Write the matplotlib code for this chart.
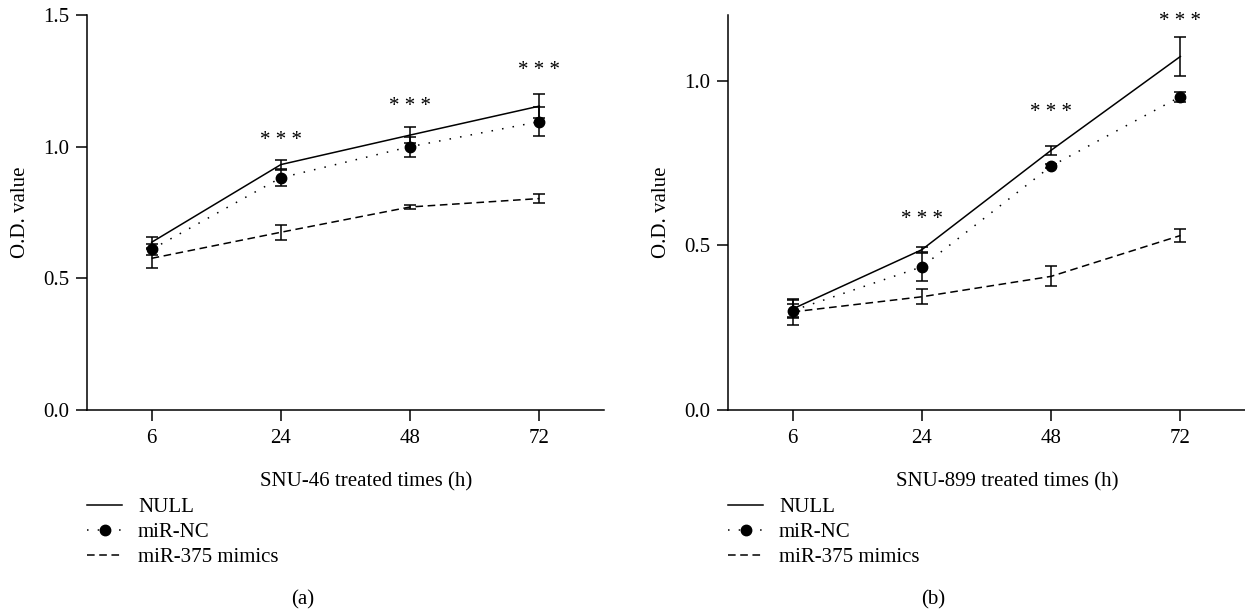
import numpy as np
import matplotlib
matplotlib.use("Agg")
import matplotlib.pyplot as plt
from matplotlib.lines import Line2D

plt.rcParams.update({
    "font.family": ["Liberation Serif", "DejaVu Serif"],
    "font.size": 15,
    "axes.linewidth": 1.1,
    "xtick.major.width": 1.1,
    "ytick.major.width": 1.1,
    "xtick.major.size": 8,
    "ytick.major.size": 8,
})

times = ["6", "24", "48", "72"]

# panel (a) SNU-46
a_null = [0.637, 0.932, 1.044, 1.154]
a_null_err = [0.020, 0.016, 0.031, 0.046]
a_nc = [0.610, 0.882, 1.000, 1.095]
a_nc_err = [0.020, 0.030, 0.038, 0.054]
a_mim = [0.576, 0.675, 0.771, 0.803]
a_mim_err = [0.035, 0.028, 0.008, 0.018]
a_star_y = [None, 1.025, 1.152, 1.289]

# panel (b) SNU-899
b_null = [0.307, 0.487, 0.789, 1.074]
b_null_err = [0.027, 0.007, 0.014, 0.058]
b_nc = [0.302, 0.435, 0.741, 0.952]
b_nc_err = [0.020, 0.043, 0.005, 0.015]
b_mim = [0.298, 0.344, 0.406, 0.530]
b_mim_err = [0.040, 0.023, 0.030, 0.020]
b_star_y = [None, 0.579, 0.905, 1.181]

W, H = 1245, 615
fig = plt.figure(figsize=(W / 100, H / 100), dpi=100)

ax_w = 517 / W
ax_b = 1 - 410 / H
ax_h = 395 / H
axes = [fig.add_axes([87 / W, ax_b, ax_w, ax_h]),
        fig.add_axes([728 / W, ax_b, ax_w, ax_h])]

panels = [
    (a_null, a_null_err, a_nc, a_nc_err, a_mim, a_mim_err, a_star_y,
     "SNU-46 treated times (h)", 1.5, [0.0, 0.5, 1.0, 1.5]),
    (b_null, b_null_err, b_nc, b_nc_err, b_mim, b_mim_err, b_star_y,
     "SNU-899 treated times (h)", 1.2, [0.0, 0.5, 1.0]),
]

x = np.arange(len(times))
for ax, (nul, nul_e, nc, nc_e, mim, mim_e, stars, xlab, ytop, yt) in zip(axes, panels):
    ekw = dict(ecolor="black", elinewidth=1.1, capsize=4, capthick=1.1)
    ax.errorbar(x, nul, yerr=nul_e, color="black", lw=1.1, ls="-", **ekw)
    ax.errorbar(x, nc, yerr=nc_e, color="black", lw=1.1, ls=(0, (1, 6)),
                marker="o", ms=7.5, **ekw)
    ax.errorbar(x, mim, yerr=mim_e, color="black", lw=1.1, ls=(0, (5, 3)), **ekw)
    for xi, sy in zip(x, stars):
        if sy is not None:
            ax.text(xi, sy, "* * *", ha="center", va="center", fontsize=15)

    ax.set_xlim(-0.5, 3.5)
    ax.set_ylim(0, ytop)
    ax.set_xticks(x)
    ax.set_xticklabels(times)
    ax.set_yticks(yt)
    ax.set_yticklabels([f"{v:.1f}" for v in yt])
    ax.tick_params(axis="x", pad=6)
    ax.tick_params(axis="y", pad=5)
    for s in ("top", "right"):
        ax.spines[s].set_visible(False)

    ax.set_xlabel(xlab)
    ax.xaxis.set_label_coords(0.54, -0.182)
    ax.xaxis.label.set_va("center")
    ax.set_ylabel("O.D. value")
    ax.yaxis.set_label_coords(-0.128, 0.5)
    ax.yaxis.label.set_va("center")

    handles = [
        Line2D([], [], color="black", lw=1.1, ls="-"),
        Line2D([], [], color="black", lw=1.1, ls=(0, (1, 6)), marker="o", ms=7.5),
        Line2D([], [], color="black", lw=1.1, ls=(0, (5, 3))),
    ]
    ax.legend(handles, ["NULL", "miR-NC", "miR-375 mimics"],
              loc="upper left", bbox_to_anchor=(0.0, -0.222),
              frameon=False, borderpad=0, borderaxespad=0,
              handlelength=1.7, handletextpad=0.75, labelspacing=0.25)

fig.text(303 / W, 1 - 600 / H, "(a)", ha="center", va="center")
fig.text(933 / W, 1 - 600 / H, "(b)", ha="center", va="center")

fig.savefig("out.png", dpi=100)
